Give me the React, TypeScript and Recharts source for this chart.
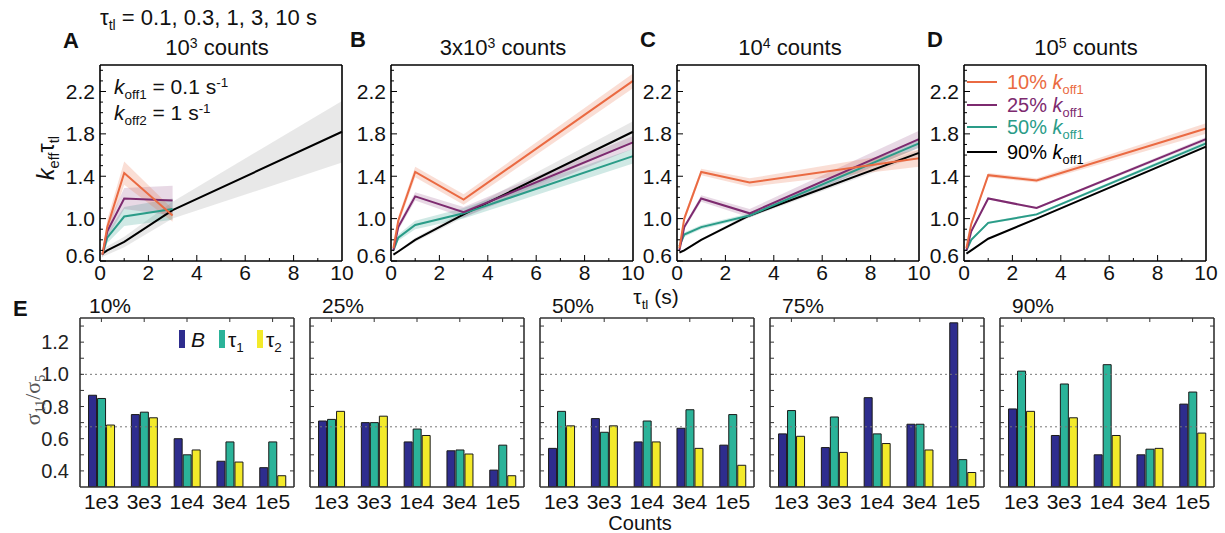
import { ComposedChart, Line, Area, XAxis, YAxis, BarChart, Bar, ReferenceLine } from "recharts";

const FONT = "'Liberation Sans', Arial, Helvetica, sans-serif";

// ---- top row: k_eff * tau_tl vs tau_tl ----
const tauTl = [0.1, 0.3, 1, 3, 10];

// A: 10^3 counts
const orange1e3 = [0.66, 0.92, 1.43, 1.03, null];
const orange1e3Err = [0.03, 0.07, 0.11, 0.06, null];
const purple1e3 = [0.66, 0.88, 1.19, 1.17, null];
const purple1e3Err = [0.03, 0.06, 0.1, 0.14, null];
const teal1e3 = [0.66, 0.82, 1.02, 1.09, null];
const teal1e3Err = [0.03, 0.05, 0.09, 0.1, null];
const black1e3 = [0.67, 0.7, 0.78, 1.08, 1.82];
const black1e3Err = [0.03, 0.04, 0.05, 0.08, 0.29];

// B: 3x10^3 counts
const orange3e3 = [0.72, 0.98, 1.44, 1.18, 2.3];
const orange3e3Err = [0.03, 0.04, 0.05, 0.05, 0.07];
const purple3e3 = [0.7, 0.92, 1.21, 1.06, 1.72];
const purple3e3Err = [0.02, 0.03, 0.04, 0.05, 0.06];
const teal3e3 = [0.7, 0.82, 0.94, 1.05, 1.59];
const teal3e3Err = [0.02, 0.03, 0.04, 0.05, 0.07];
const black3e3 = [0.66, 0.69, 0.8, 1.04, 1.82];
const black3e3Err = [0.01, 0.01, 0.02, 0.03, 0.1];

// C: 10^4 counts
const orange1e4 = [0.72, 1.0, 1.44, 1.34, 1.57];
const orange1e4Err = [0.02, 0.03, 0.03, 0.04, 0.08];
const purple1e4 = [0.7, 0.92, 1.19, 1.05, 1.75];
const purple1e4Err = [0.01, 0.02, 0.03, 0.04, 0.08];
const teal1e4 = [0.74, 0.85, 0.92, 1.03, 1.71];
const teal1e4Err = [0.01, 0.02, 0.02, 0.02, 0.04];
const black1e4 = [0.68, 0.7, 0.8, 1.03, 1.62];
const black1e4Err = [0.01, 0.01, 0.01, 0.02, 0.03];

// D: 10^5 counts
const orange1e5 = [0.72, 0.95, 1.41, 1.36, 1.85];
const orange1e5Err = [0.01, 0.02, 0.02, 0.02, 0.05];
const purple1e5 = [0.7, 0.88, 1.19, 1.1, 1.75];
const purple1e5Err = [0.01, 0.01, 0.01, 0.01, 0.02];
const teal1e5 = [0.7, 0.8, 0.96, 1.04, 1.71];
const teal1e5Err = [0.01, 0.01, 0.01, 0.01, 0.02];
const black1e5 = [0.67, 0.7, 0.81, 1.0, 1.68];
const black1e5Err = [0.005, 0.005, 0.005, 0.01, 0.01];

const kTicksY = [0.6, 0.7, 0.8, 0.9, 1.0, 1.1, 1.2, 1.3, 1.4, 1.5, 1.6, 1.7, 1.8, 1.9, 2.0, 2.1, 2.2, 2.3, 2.4];
const kLabelsY = [0.6, 1.0, 1.4, 1.8, 2.2];
const kTicksX = [0, 1, 2, 3, 4, 5, 6, 7, 8, 9, 10];
const kLabelsX = [0, 2, 4, 6, 8, 10];

// ---- bottom row: sigma11 / sigma5 ----
const counts = ["1e3", "3e3", "1e4", "3e4", "1e5"];
const B10 = [0.87, 0.75, 0.6, 0.46, 0.42];
const tau1_10 = [0.85, 0.765, 0.5, 0.58, 0.58];
const tau2_10 = [0.685, 0.73, 0.53, 0.455, 0.37];
const B25 = [0.71, 0.7, 0.58, 0.525, 0.405];
const tau1_25 = [0.72, 0.7, 0.66, 0.53, 0.56];
const tau2_25 = [0.77, 0.74, 0.62, 0.505, 0.37];
const B50 = [0.54, 0.725, 0.58, 0.665, 0.56];
const tau1_50 = [0.77, 0.64, 0.71, 0.78, 0.75];
const tau2_50 = [0.68, 0.68, 0.58, 0.54, 0.435];
const B75 = [0.63, 0.545, 0.855, 0.69, 1.32];
const tau1_75 = [0.775, 0.735, 0.63, 0.69, 0.47];
const tau2_75 = [0.615, 0.515, 0.57, 0.53, 0.39];
const B90 = [0.785, 0.62, 0.5, 0.5, 0.815];
const tau1_90 = [1.02, 0.94, 1.06, 0.535, 0.89];
const tau2_90 = [0.77, 0.73, 0.62, 0.54, 0.635];

const sigTicksY = [0.4, 0.5, 0.6, 0.7, 0.8, 0.9, 1.0, 1.1, 1.2, 1.3];
const sigLabelsY = [0.4, 0.6, 0.8, 1.0, 1.2];
const sigRefLines = [1.0, 0.674];

const ORANGE = "#EA6A42";
const PURPLE = "#7D2A6F";
const TEAL = "#2A9C88";
const BLACK = "#000000";
const NAVY = "#2E2D8E";
const GREEN = "#2BB399";
const YELLOW = "#F3EA2A";

const isIn = (v: number, arr: number[]) => arr.some((a) => Math.abs(a - v) < 1e-6);

function makeRows(series: { key: string; vals: (number | null)[]; err: (number | null)[] }[]) {
  return tauTl.map((t, i) => {
    const row: any = { t };
    series.forEach((s) => {
      const v = s.vals[i];
      const e = s.err[i];
      row[s.key] = v;
      row[s.key + "Band"] = v == null || e == null ? null : [v - e, v + e];
    });
    return row;
  });
}

const kLeftTick = (p: any) => {
  const v = p.payload.value;
  const major = isIn(v, kLabelsY);
  return (
    <g>
      <line x1={p.x} x2={p.x + (major ? 6 : 3)} y1={p.y} y2={p.y} stroke="#000" strokeWidth={1} />
      {major && (
        <text x={p.x - 5} y={p.y - (v < 0.65 ? 6 : 0)} textAnchor="end" dominantBaseline="central" fontSize={21} fontFamily={FONT} fill="#111">
          {v.toFixed(1)}
        </text>
      )}
    </g>
  );
};

const kBottomTick = (p: any) => {
  const v = p.payload.value;
  const major = isIn(v, kLabelsX);
  return (
    <g>
      {v > 0 && v < 10 && <line x1={p.x} x2={p.x} y1={p.y} y2={p.y - (major ? 6 : 3)} stroke="#000" strokeWidth={1} />}
      {major && (
        <text x={p.x} y={p.y + 11} textAnchor="middle" dominantBaseline="central" fontSize={21} fontFamily={FONT} fill="#111">
          {v}
        </text>
      )}
    </g>
  );
};

const frame = { stroke: "#000", strokeWidth: 1.6 };
const noTick = () => <g />;

// plot box: left edge at container left + 40, top at 65, 242 x 196
function KineticsPanel({ left, rows }: { left: number; rows: any[] }) {
  return (
    <div style={{ position: "absolute", left: left - 40, top: 60 }}>
      <ComposedChart width={298} height={231} data={rows} margin={{ top: 4, right: 15, bottom: 0, left: 0 }}>
        <XAxis xAxisId="b" dataKey="t" type="number" domain={[0, 10]} ticks={kTicksX} interval={0} tickSize={0} tickMargin={0} tick={kBottomTick} axisLine={frame} height={30} />
        <XAxis xAxisId="t" dataKey="t" type="number" orientation="top" domain={[0, 10]} ticks={kTicksX} interval={0} tickSize={0} tickMargin={0} tick={noTick} axisLine={frame} height={1} />
        <YAxis yAxisId="l" type="number" domain={[0.6, 2.45]} allowDataOverflow ticks={kTicksY} interval={0} tickSize={0} tickMargin={0} tick={kLeftTick} axisLine={frame} width={40} />
        <YAxis yAxisId="r" type="number" orientation="right" domain={[0.6, 2.45]} allowDataOverflow ticks={kTicksY} interval={0} tickSize={0} tickMargin={0} tick={noTick} axisLine={frame} width={1} />
        <Area xAxisId="b" yAxisId="l" dataKey="kBand" stroke="none" fill="#BDBDBD" fillOpacity={0.35} isAnimationActive={false} />
        <Area xAxisId="b" yAxisId="l" dataKey="gBand" stroke="none" fill={TEAL} fillOpacity={0.22} isAnimationActive={false} />
        <Area xAxisId="b" yAxisId="l" dataKey="pBand" stroke="none" fill={PURPLE} fillOpacity={0.18} isAnimationActive={false} />
        <Area xAxisId="b" yAxisId="l" dataKey="oBand" stroke="none" fill={ORANGE} fillOpacity={0.22} isAnimationActive={false} />
        <Line xAxisId="b" yAxisId="l" dataKey="k" stroke={BLACK} strokeWidth={2} dot={false} isAnimationActive={false} />
        <Line xAxisId="b" yAxisId="l" dataKey="g" stroke={TEAL} strokeWidth={2} dot={false} isAnimationActive={false} />
        <Line xAxisId="b" yAxisId="l" dataKey="p" stroke={PURPLE} strokeWidth={2} dot={false} isAnimationActive={false} />
        <Line xAxisId="b" yAxisId="l" dataKey="o" stroke={ORANGE} strokeWidth={2} dot={false} isAnimationActive={false} />
        {/* hidden series so the top and right frame axes have data bound to them */}
        <Line xAxisId="t" yAxisId="r" dataKey="k" stroke="none" dot={false} legendType="none" isAnimationActive={false} />
      </ComposedChart>
    </div>
  );
}

const sigLeftTick = (withLabels: boolean) => (p: any) => {
  const v = p.payload.value;
  return (
    <g>
      <line x1={p.x} x2={p.x + 4} y1={p.y} y2={p.y} stroke="#333" strokeWidth={1} />
      {withLabels && isIn(v, sigLabelsY) && (
        <text x={p.x - 11} y={p.y} textAnchor="end" dominantBaseline="central" fontSize={20} fontFamily={FONT} fill="#222">
          {v.toFixed(1)}
        </text>
      )}
    </g>
  );
};

const sigRightTick = (p: any) => <line x1={p.x} x2={p.x - 4} y1={p.y} y2={p.y} stroke="#333" strokeWidth={1} />;
const sigTopTick = (p: any) => <line x1={p.x} x2={p.x} y1={p.y} y2={p.y + 4} stroke="#333" strokeWidth={1} />;
const sigBottomTick = (p: any) => (
  <text x={p.x} y={p.y + 14} textAnchor="middle" dominantBaseline="central" fontSize={21} fontFamily={FONT} fill="#111">
    {p.payload.value}
  </text>
);

const barFrame = { stroke: "#333", strokeWidth: 1.6 };

// plot box: left edge at container left + 40, top at 318, 214 x 169
function SigmaPanel({ left, b, t1, t2, labels }: { left: number; b: number[]; t1: number[]; t2: number[]; labels?: boolean }) {
  const rows = counts.map((c, i) => ({ count: c, B: b[i], t1: t1[i], t2: t2[i] }));
  return (
    <div style={{ position: "absolute", left: left - 40, top: 315 }}>
      <BarChart width={260} height={202} data={rows} margin={{ top: 2, right: 5, bottom: 0, left: 0 }} barCategoryGap="20%" barGap={1}>
        <XAxis xAxisId="b" dataKey="count" interval={0} tickSize={0} tickMargin={0} tick={sigBottomTick} axisLine={barFrame} height={30} />
        <XAxis xAxisId="t" dataKey="count" orientation="top" interval={0} tickSize={0} tickMargin={0} tick={sigTopTick} axisLine={barFrame} height={1} />
        <YAxis yAxisId="l" type="number" domain={[0.3, 1.35]} allowDataOverflow ticks={sigTicksY} interval={0} tickSize={0} tickMargin={0} tick={sigLeftTick(!!labels)} axisLine={barFrame} width={40} />
        <YAxis yAxisId="r" type="number" orientation="right" domain={[0.3, 1.35]} allowDataOverflow ticks={sigTicksY} interval={0} tickSize={0} tickMargin={0} tick={sigRightTick} axisLine={barFrame} width={1} />
        {sigRefLines.map((y) => (
          <ReferenceLine key={y} xAxisId="b" yAxisId="l" y={y} stroke="#777" strokeWidth={1} strokeDasharray="2 3" />
        ))}
        <Bar xAxisId="b" yAxisId="l" dataKey="B" fill={NAVY} stroke="#1a1a1a" strokeWidth={1} isAnimationActive={false} />
        <Bar xAxisId="b" yAxisId="l" dataKey="t1" fill={GREEN} stroke="#1a1a1a" strokeWidth={1} isAnimationActive={false} />
        <Bar xAxisId="b" yAxisId="l" dataKey="t2" fill={YELLOW} stroke="#1a1a1a" strokeWidth={1} isAnimationActive={false} />
        {/* hidden series so the top and right frame axes have data bound to them */}
        <Line xAxisId="t" yAxisId="r" dataKey="B" stroke="none" dot={false} legendType="none" isAnimationActive={false} />
      </BarChart>
    </div>
  );
}

const Sub = ({ children }: any) => <span style={{ fontSize: "0.64em", position: "relative", top: "0.35em" }}>{children}</span>;
const Sup = ({ children }: any) => <span style={{ fontSize: "0.64em", position: "relative", top: "-0.55em" }}>{children}</span>;

function Label({ x, y, size = 22, center, bold, color, children }: any) {
  return (
    <div
      style={{
        position: "absolute",
        left: x,
        top: y - 0.846 * size,
        fontSize: size,
        lineHeight: 1,
        fontFamily: FONT,
        fontWeight: bold ? 700 : 400,
        color: color || "#111",
        whiteSpace: "nowrap",
        transform: center ? "translateX(-50%)" : undefined,
      }}
    >
      {children}
    </div>
  );
}

const Koff = ({ n }: { n: string }) => (
  <>
    <i>k</i>
    <Sub>off{n}</Sub>
  </>
);

const legendItems = [
  { pct: "10%", color: ORANGE, y: 82 },
  { pct: "25%", color: PURPLE, y: 105 },
  { pct: "50%", color: TEAL, y: 127 },
  { pct: "90%", color: BLACK, y: 152 },
];

export default function App() {
  const rowsA = makeRows([
    { key: "o", vals: orange1e3, err: orange1e3Err },
    { key: "p", vals: purple1e3, err: purple1e3Err },
    { key: "g", vals: teal1e3, err: teal1e3Err },
    { key: "k", vals: black1e3, err: black1e3Err },
  ]);
  const rowsB = makeRows([
    { key: "o", vals: orange3e3, err: orange3e3Err },
    { key: "p", vals: purple3e3, err: purple3e3Err },
    { key: "g", vals: teal3e3, err: teal3e3Err },
    { key: "k", vals: black3e3, err: black3e3Err },
  ]);
  const rowsC = makeRows([
    { key: "o", vals: orange1e4, err: orange1e4Err },
    { key: "p", vals: purple1e4, err: purple1e4Err },
    { key: "g", vals: teal1e4, err: teal1e4Err },
    { key: "k", vals: black1e4, err: black1e4Err },
  ]);
  const rowsD = makeRows([
    { key: "o", vals: orange1e5, err: orange1e5Err },
    { key: "p", vals: purple1e5, err: purple1e5Err },
    { key: "g", vals: teal1e5, err: teal1e5Err },
    { key: "k", vals: black1e5, err: black1e5Err },
  ]);

  return (
    <div style={{ position: "absolute", left: 0, top: 0, width: 1225, height: 533, background: "#fff", overflow: "hidden", fontFamily: FONT }}>
      <KineticsPanel left={100} rows={rowsA} />
      <KineticsPanel left={391} rows={rowsB} />
      <KineticsPanel left={677} rows={rowsC} />
      <KineticsPanel left={964} rows={rowsD} />

      <SigmaPanel left={80} b={B10} t1={tau1_10} t2={tau2_10} labels />
      <SigmaPanel left={310} b={B25} t1={tau1_25} t2={tau2_25} />
      <SigmaPanel left={540} b={B50} t1={tau1_50} t2={tau2_50} />
      <SigmaPanel left={770} b={B75} t1={tau1_75} t2={tau2_75} />
      <SigmaPanel left={1000} b={B90} t1={tau1_90} t2={tau2_90} />

      {/* top texts */}
      <Label x={100} y={26}>
        τ<Sub>tl</Sub> = 0.1, 0.3, 1, 3, 10 s
      </Label>
      <Label x={63} y={49} bold>A</Label>
      <Label x={350} y={48} bold>B</Label>
      <Label x={640} y={48} bold>C</Label>
      <Label x={927} y={48} bold>D</Label>
      <Label x={217} y={56} center>
        10<Sup>3</Sup> counts
      </Label>
      <Label x={503} y={56} center>
        3x10<Sup>3</Sup> counts
      </Label>
      <Label x={790} y={56} center>
        10<Sup>4</Sup> counts
      </Label>
      <Label x={1086} y={56} center>
        10<Sup>5</Sup> counts
      </Label>

      <Label x={114} y={94} size={21}>
        <Koff n="1" /> = 0.1 s<Sup>-1</Sup>
      </Label>
      <Label x={114} y={120} size={21}>
        <Koff n="2" /> = 1 s<Sup>-1</Sup>
      </Label>

      {legendItems.map((it) => (
        <div key={it.pct}>
          <div style={{ position: "absolute", left: 967, top: it.y - 1.25, width: 30, height: 2.5, background: it.color }} />
          <Label x={1007} y={it.y + 7} size={20} color={it.color}>
            {it.pct} <Koff n="1" />
          </Label>
        </div>
      ))}

      <div
        style={{
          position: "absolute",
          left: 46,
          top: 158,
          transform: "translate(-50%, -50%) rotate(-90deg)",
          fontSize: 23,
          lineHeight: 1,
          whiteSpace: "nowrap",
          color: "#111",
        }}
      >
        <i>k</i>
        <Sub>eff</Sub>τ<Sub>tl</Sub>
      </div>

      <Label x={656} y={304} center size={21}>
        τ<Sub>tl</Sub> (s)
      </Label>

      {/* bottom texts */}
      <Label x={13} y={317} bold>E</Label>
      <Label x={89} y={313} size={21}>10%</Label>
      <Label x={322} y={313} size={21}>25%</Label>
      <Label x={552} y={313} size={21}>50%</Label>
      <Label x={782} y={313} size={21}>75%</Label>
      <Label x={1012} y={313} size={21}>90%</Label>
      <Label x={640} y={530} center size={20}>Counts</Label>

      <div
        style={{
          position: "absolute",
          left: 33,
          top: 400,
          transform: "translate(-50%, -50%) rotate(-90deg)",
          fontSize: 22,
          lineHeight: 1,
          whiteSpace: "nowrap",
          color: "#555",
          fontFamily: "'Liberation Serif', serif",
        }}
      >
        σ<Sub>11</Sub>/σ<Sub>5</Sub>
      </div>

      {/* bar legend in 10% panel */}
      <div style={{ position: "absolute", left: 179, top: 330, width: 6, height: 18, background: NAVY }} />
      <Label x={191} y={347} size={21}>
        <i>B</i>
      </Label>
      <div style={{ position: "absolute", left: 219, top: 330, width: 6, height: 18, background: GREEN }} />
      <Label x={228} y={347} size={21}>
        τ<Sub>1</Sub>
      </Label>
      <div style={{ position: "absolute", left: 257, top: 330, width: 6, height: 18, background: YELLOW }} />
      <Label x={266} y={347} size={21}>
        τ<Sub>2</Sub>
      </Label>
    </div>
  );
}
